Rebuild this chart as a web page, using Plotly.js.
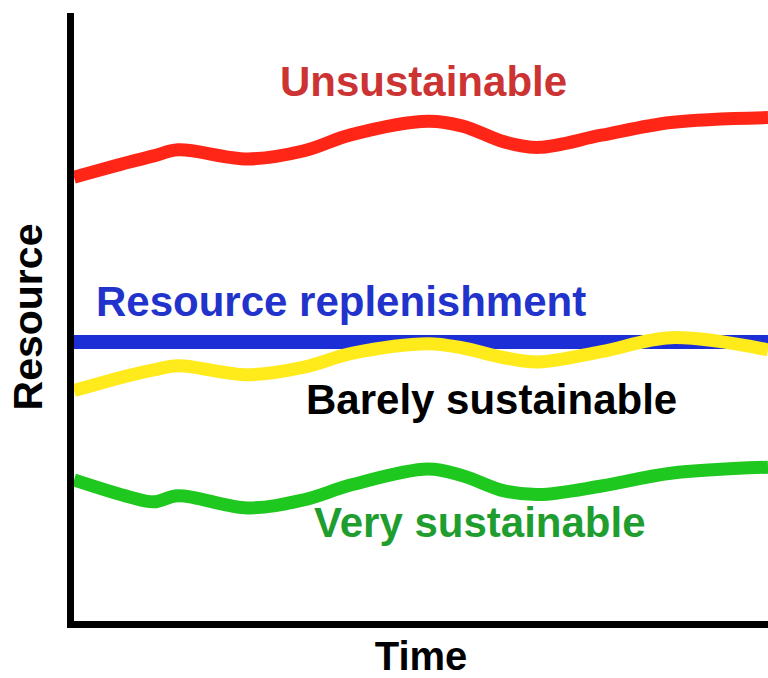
<!DOCTYPE html>
<html>
<head>
<meta charset="utf-8">
<script src="https://cdn.plot.ly/plotly-3.0.1.min.js"></script>
<style>
  html, body { margin: 0; padding: 0; background: #ffffff; }
  #chart { width: 768px; height: 678px; }
</style>
</head>
<body>
<div id="chart"></div>
<script>
// Time (arbitrary units, 0-100)
const time = [0, 8, 11.5, 15, 25, 33, 40, 51, 56, 62, 67, 76, 86, 100];

// Resource levels (arbitrary units, 0-100)
const unsustainable      = [73.0, 75.5, 76.5, 77.5, 76.0, 77.3, 80.0, 82.2, 81.4, 78.8, 77.9, 79.9, 82.0, 82.8];
const barelySustainable  = [37.9, 40.4, 41.3, 42.0, 40.5, 41.7, 44.0, 45.6, 44.9, 43.3, 42.6, 44.3, 46.6, 44.6];
const verySustainable    = [23.2, 20.4, 19.6, 20.6, 18.6, 19.9, 22.4, 25.0, 23.9, 21.4, 20.8, 22.2, 24.3, 25.3];
const replenishmentLevel = 45.9;
const replenishment      = time.map(() => replenishmentLevel);

// Labels
const labelNames  = ["Unsustainable", "Resource replenishment", "Barely sustainable", "Very sustainable"];
const labelTime   = [50.4, 38.4, 60.2, 58.5];
const labelLevel  = [88.7, 52.5, 36.4, 16.2];
const labelColors = ["#cc3333", "#2233cc", "#000000", "#1f9e2f"];

const font = "Liberation Sans, Arial, Helvetica, sans-serif";

const traces = [
  { x: time, y: replenishment, mode: "lines", line: { color: "#1c2fd6", width: 14 }, hoverinfo: "skip" },
  { x: time, y: unsustainable, mode: "lines", line: { color: "#ff2617", width: 13, shape: "spline", smoothing: 1 }, hoverinfo: "skip" },
  { x: time, y: barelySustainable, mode: "lines", line: { color: "#ffea1c", width: 13, shape: "spline", smoothing: 1 }, hoverinfo: "skip" },
  { x: time, y: verySustainable, mode: "lines", line: { color: "#1ec81e", width: 13, shape: "spline", smoothing: 1 }, hoverinfo: "skip" }
];

const annotations = labelNames.map((t, i) => ({
  x: labelTime[i], y: labelLevel[i], xref: "x", yref: "y",
  text: "<b>" + t + "</b>", showarrow: false,
  xanchor: "center", yanchor: "middle",
  font: { family: font, size: 42, color: labelColors[i] }
}));

const layout = {
  width: 768, height: 678,
  margin: { l: 74, r: 0, t: 13, b: 57 },
  paper_bgcolor: "#ffffff", plot_bgcolor: "#ffffff",
  showlegend: false,
  xaxis: {
    range: [0, 100], showgrid: false, zeroline: false, showticklabels: false, ticks: "",
    showline: true, linecolor: "#000000", linewidth: 7,
    title: { text: "<b>Time</b>", font: { family: font, size: 40, color: "#000000" }, standoff: 28 }
  },
  yaxis: {
    range: [0, 100], showgrid: false, zeroline: false, showticklabels: false, ticks: "",
    showline: true, linecolor: "#000000", linewidth: 7,
    title: { text: "<b>Resource</b>", font: { family: font, size: 41, color: "#000000" }, standoff: 14 }
  },
  annotations: annotations
};

Plotly.newPlot("chart", traces, layout, { displayModeBar: false, staticPlot: true });
</script>
</body>
</html>
